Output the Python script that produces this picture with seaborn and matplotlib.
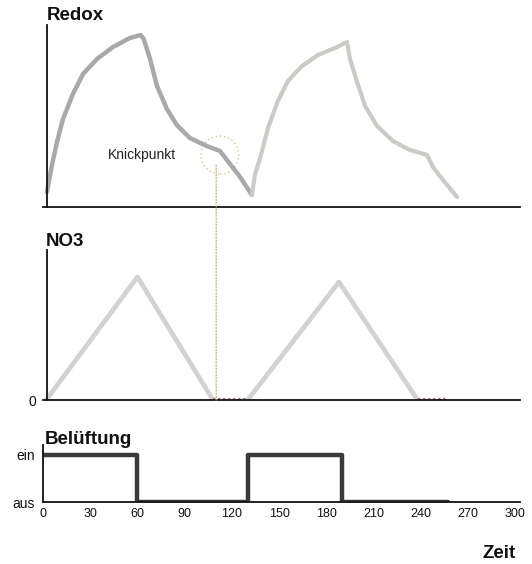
import matplotlib
matplotlib.use("Agg")
import matplotlib.pyplot as plt
import seaborn as sns
import pandas as pd
from matplotlib.patches import Ellipse, ConnectionPatch

sns.set_theme(style="white")
plt.rcParams['font.family'] = ['Liberation Sans', 'DejaVu Sans']
plt.rcParams['text.color'] = '#111111'
plt.rcParams['xtick.color'] = '#111111'
plt.rcParams['ytick.color'] = '#111111'

# ---- data ----
redox1_t = [2.5, 5.7, 8.9, 12.7, 19, 25.4, 34.3, 44.5, 55.2, 62, 64, 68, 72.4, 78.7,
            85, 93.3, 104, 112.4, 118.8, 125.2, 132.7]
redox1_v = [15, 42, 65, 88, 113, 133, 148, 160, 169, 172, 168, 148, 121, 98,
            82, 69, 61, 56, 43, 30, 12]
redox2_t = [132.7, 134.6, 139, 142.9, 149.2, 155.6, 164.5, 174.7, 185.5, 193.1,
            195, 199.5, 204.6, 212.2, 222.3, 233.1, 243.9, 247.7, 254.1, 263]
redox2_v = [12, 32, 55, 79, 106, 126, 141, 152, 159, 165,
            148, 125, 101, 81, 66, 57, 52, 40, 27, 10]

no3_t = [2, 60, 108, 130, 188, 238]
no3_v = [0, 123, 0, 0, 118, 0]
no3_zero1 = [108, 130]
no3_zero2 = [238, 257]

vent_t = [0, 60, 130, 190, 257]
vent_state = [1, 0, 1, 0, 0]

x_ticks = [0, 30, 60, 90, 120, 150, 180, 210, 240, 270, 300]
vent_labels = ["aus", "ein"]
knick_t, knick_v = 110, 54

W, H = 532, 564
fig = plt.figure(figsize=(W / 100, H / 100), dpi=100)

XL, XR = 43, 520
XMAX = 303


def add_ax(top, bottom):
    return fig.add_axes([XL / W, 1 - bottom / H, (XR - XL) / W, (bottom - top) / H])


line_kw = dict(solid_joinstyle="round", solid_capstyle="round", sort=False)

# ---- Redox ----
ax1 = add_ax(25, 207)
df1 = pd.DataFrame({"t": redox1_t, "v": redox1_v})
df2 = pd.DataFrame({"t": redox2_t, "v": redox2_v})
sns.lineplot(data=df1, x="t", y="v", ax=ax1, color="#a9a9a9", linewidth=3.2, **line_kw)
sns.lineplot(data=df2, x="t", y="v", ax=ax1, color="#cbcbc5", linewidth=3.0, **line_kw)
ax1.set_xlim(0, XMAX)
ax1.set_ylim(0, 182)
ax1.text(41, 52, "Knickpunkt", fontsize=10, va="center", ha="left", color="#222222")
ax1.add_patch(Ellipse((knick_t + 2.4, knick_v - 2), 24, 38, fill=False, ec="#d8c98a",
                      ls=(0, (1, 2)), lw=1.0))

# ---- NO3 ----
ax2 = add_ax(250, 400)
dfn = pd.DataFrame({"t": no3_t, "v": no3_v})
sns.lineplot(data=dfn.iloc[:3], x="t", y="v", ax=ax2, color="#d2d2d2", linewidth=3.4, **line_kw)
sns.lineplot(data=dfn.iloc[3:], x="t", y="v", ax=ax2, color="#d2d2d2", linewidth=3.4, **line_kw)
for seg in (no3_zero1, no3_zero2):
    sns.lineplot(x=seg, y=[0, 0], ax=ax2, color="#a08080", linewidth=3.0, linestyle=(0, (0.6, 0.6)))
ax2.set_xlim(0, XMAX)
ax2.set_ylim(0, 150)

# ---- Belüftung ----
ax3 = add_ax(445, 502)
dfv = pd.DataFrame({"t": vent_t, "s": vent_state})
sns.lineplot(data=dfv, x="t", y="s", ax=ax3, color="#3a3a3a", linewidth=3.2,
             drawstyle="steps-post", sort=False)
ax3.set_xlim(0, XMAX)
ax3.set_ylim(0, (502 - 445) / (502 - 455))

for ax in (ax1, ax2, ax3):
    for s in ("top", "right"):
        ax.spines[s].set_visible(False)
    for s in ("left", "bottom"):
        ax.spines[s].set_color("#111111")
        ax.spines[s].set_linewidth(1.3)
    ax.set_xlabel("")
    ax.set_ylabel("")
    ax.patch.set_alpha(0)

for ax in (ax1, ax2):
    ax.spines["left"].set_position(("data", 2.5))
    ax.set_xticks([])
    ax.set_yticks([])

ax2.set_yticks([0])
ax2.set_yticklabels(["0"], fontsize=10)
ax2.tick_params(axis="y", length=0, pad=8)

ax3.set_yticks([0, 1])
ax3.set_yticklabels(vent_labels, fontsize=10)
ax3.tick_params(axis="y", length=0, pad=6)
ax3.set_xticks(x_ticks)
ax3.set_xticklabels([str(v) for v in x_ticks], fontsize=9)
ax3.tick_params(axis="x", length=0, pad=4)

# dotted vertical line from Knickpunkt to NO3 zero
con = ConnectionPatch(xyA=(knick_t, knick_v - 12), coordsA=ax1.transData,
                      xyB=(knick_t, 0), coordsB=ax2.transData,
                      color="#c8b070", lw=0.9, ls=(0, (1, 1.5)))
fig.add_artist(con)

# titles
fig.text(47 / W, 1 - 15 / H, "Redox", fontsize=13.5, fontweight="bold", va="center", ha="left")
fig.text(46 / W, 1 - 242 / H, "NO3", fontsize=13.5, fontweight="bold", va="center", ha="left")
fig.text(45 / W, 1 - 439 / H, "Belüftung", fontsize=13.5, fontweight="bold", va="center", ha="left")
fig.text(516 / W, 1 - 553 / H, "Zeit", fontsize=13.5, fontweight="bold", va="center", ha="right")

fig.savefig("out.png", dpi=100)
